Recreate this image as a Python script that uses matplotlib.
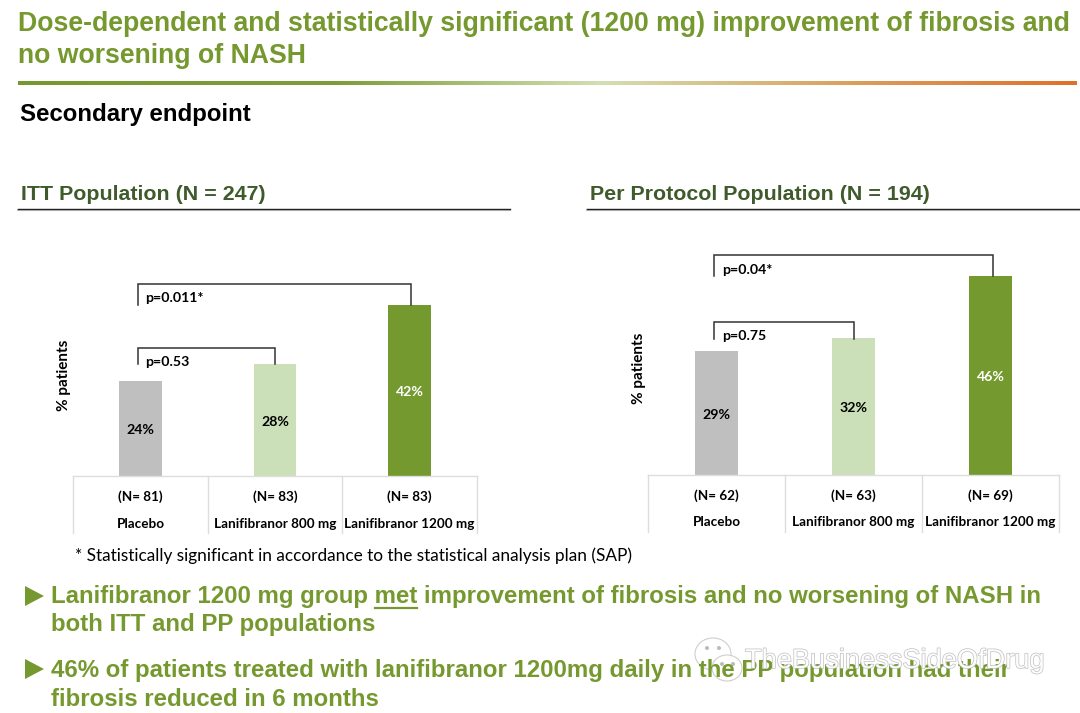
import numpy as np
import matplotlib
matplotlib.use("Agg")
import matplotlib.pyplot as plt
import matplotlib.patheffects as pe
from matplotlib.colors import LinearSegmentedColormap
from matplotlib.patches import Ellipse, Polygon

groups = ["Placebo", "Lanifibranor 800 mg", "Lanifibranor 1200 mg"]
itt_values = [24, 28, 42]
itt_n = [81, 83, 83]
pp_values = [29, 32, 46]
pp_n = [62, 63, 69]

GREEN = "#76992F"
DARK_GREEN = "#3F5A2B"
bar_colors = ["#BFBFBF", "#CBDFB8", "#73992F"]
label_colors = ["black", "black", "white"]
W, H = 1080, 713

fig = plt.figure(figsize=(W / 100, H / 100), dpi=100)

# Overlay in pixel coordinates for all the slide furniture
ov = fig.add_axes([0, 0, 1, 1], zorder=5)
ov.set_xlim(0, W)
ov.set_ylim(H, 0)
ov.axis("off")
ov.patch.set_alpha(0)


def arial(x, y, s, size, color=GREEN, **kw):
    ov.text(x, y, s, family="Liberation Sans", fontweight="bold", fontsize=size,
            color=color, va="center", **kw)


def lato(x, y, s, size=9.7, ha="center", weight="bold", **kw):
    ov.text(x, y, s, family="Lato", fontweight=weight, fontsize=size, color="black",
            va="center", ha=ha, **kw)


def panel(values, n, left, right, base, top, ymin, slope, bottom):
    ax = fig.add_axes([left / W, (H - base) / H, (right - left) / W, (base - top) / H])
    ax.set_xlim(-0.5, 2.5)
    ax.set_ylim(ymin, ymin + (base - top) / slope)
    ax.axis("off")
    bars = ax.bar(range(3), values, width=0.314, color=bar_colors)
    texts = ax.bar_label(bars, labels=[f"{v}%" for v in values], label_type="center",
                         family="Lato", fontweight="bold", fontsize=10.2)
    for t, c in zip(texts, label_colors):
        t.set_color(c)
        t.xyann = (0, -1.2)

    # Table under the bars, open at the bottom
    cell = (right - left) / 3
    ov.plot([left, right], [base, base], color="#DDDDDD", lw=1)
    for i in range(4):
        ov.plot([left + i * cell] * 2, [base, bottom], color="#DDDDDD", lw=1)
    for i in range(3):
        lato(left + (i + 0.5) * cell, base + 20.5, f"(N= {n[i]})")
        lato(left + (i + 0.5) * cell, base + 47.5, groups[i])


def bracket(x0, x1, y_low0, y_top, y_low1):
    ov.plot([x0, x0, x1, x1], [y_low0, y_top, y_top, y_low1], color="#333333", lw=1.1,
            solid_joinstyle="miter")


panel(itt_values, itt_n, 73.3, 476.7, 476, 250, 1.5, 4.22, 533)
panel(pp_values, pp_n, 648, 1059, 475, 250, 0.7, 4.39, 532)

# Title
arial(18, 24, "Dose-dependent and statistically significant (1200 mg) improvement of fibrosis and", 19.2)
arial(18, 56, "no worsening of NASH", 19.2)

# Gradient rule
cmap = LinearSegmentedColormap.from_list(
    "rule", [(0, "#76992F"), (0.3, "#7C9E38"), (0.55, "#D3DFB4"), (0.8, "#DB9C58"), (1, "#E0702B")])
ov.imshow(np.linspace(0, 1, 512)[None, :], cmap=cmap, extent=[18, 1077, 85.5, 81.5], aspect="auto", zorder=1)
ov.set_xlim(0, W)
ov.set_ylim(H, 0)

arial(20, 115, "Secondary endpoint", 17.3, color="black")
arial(21, 195, "ITT Population (N = 247)", 15.4, color=DARK_GREEN)
arial(590, 195, "Per Protocol Population (N = 194)", 15.4, color=DARK_GREEN)
for x0, x1 in [(18, 510), (587, 1079)]:
    ov.plot([x0, x1], [209.6, 209.6], color="#C8C8C8", lw=1.5)
    ov.plot([x0, x1], [209, 209], color="#222222", lw=1)

# Significance brackets
bracket(138, 411, 305, 284, 305)
bracket(138, 275, 364, 348, 364)
bracket(713.7, 993, 276, 254.7, 276)
bracket(713.7, 854, 339, 322.3, 339)
lato(145.5, 297.5, "p=0.011*", size=10.2, ha="left")
lato(145.5, 361.5, "p=0.53", size=10.2, ha="left")
lato(722.5, 269.5, "p=0.04*", size=10.2, ha="left")
lato(722.5, 335.5, "p=0.75", size=10.2, ha="left")

lato(64, 375, "% patients", size=11, rotation=90)
lato(639, 368, "% patients", size=11, rotation=90)
lato(75, 556, "* Statistically significant in accordance to the statistical analysis plan (SAP)",
     size=12.4, ha="left", weight="normal")

# Takeaway bullets
for y in [596, 669]:
    ov.add_patch(Polygon([(25, y - 10), (25, y + 10), (44, y)], closed=True, color=GREEN, lw=0))
arial(51, 597, "Lanifibranor 1200 mg group met improvement of fibrosis and no worsening of NASH in", 17.25)
ov.plot([375, 417], [608, 608], color=GREEN, lw=1.6)
arial(51, 625, "both ITT and PP populations", 17.25)
arial(51, 670, "46% of patients treated with lanifibranor 1200mg daily in the PP population had their", 17.25)
arial(51, 699, "fibrosis reduced in 6 months", 17.25)

# Watermark
for cx, cy, w, h in [(713, 654, 36, 32), (727, 668, 30, 26)]:
    ov.add_patch(Ellipse((cx, cy), w, h, facecolor="white", edgecolor="#CCCCCC", lw=0.8, alpha=0.95))
for ex, ey in [(707, 648), (719, 648), (722, 664), (733, 664)]:
    ov.add_patch(Ellipse((ex, ey), 4, 4, facecolor="#BBBBBB", edgecolor="none"))
ov.text(745, 661, "TheBusinessSideOfDrug", family="Liberation Sans", fontsize=19.6, color="white",
        va="center", alpha=0.95,
        path_effects=[pe.withStroke(linewidth=1.0, foreground="#BDBDBD")])

fig.savefig("out.png", dpi=100)
